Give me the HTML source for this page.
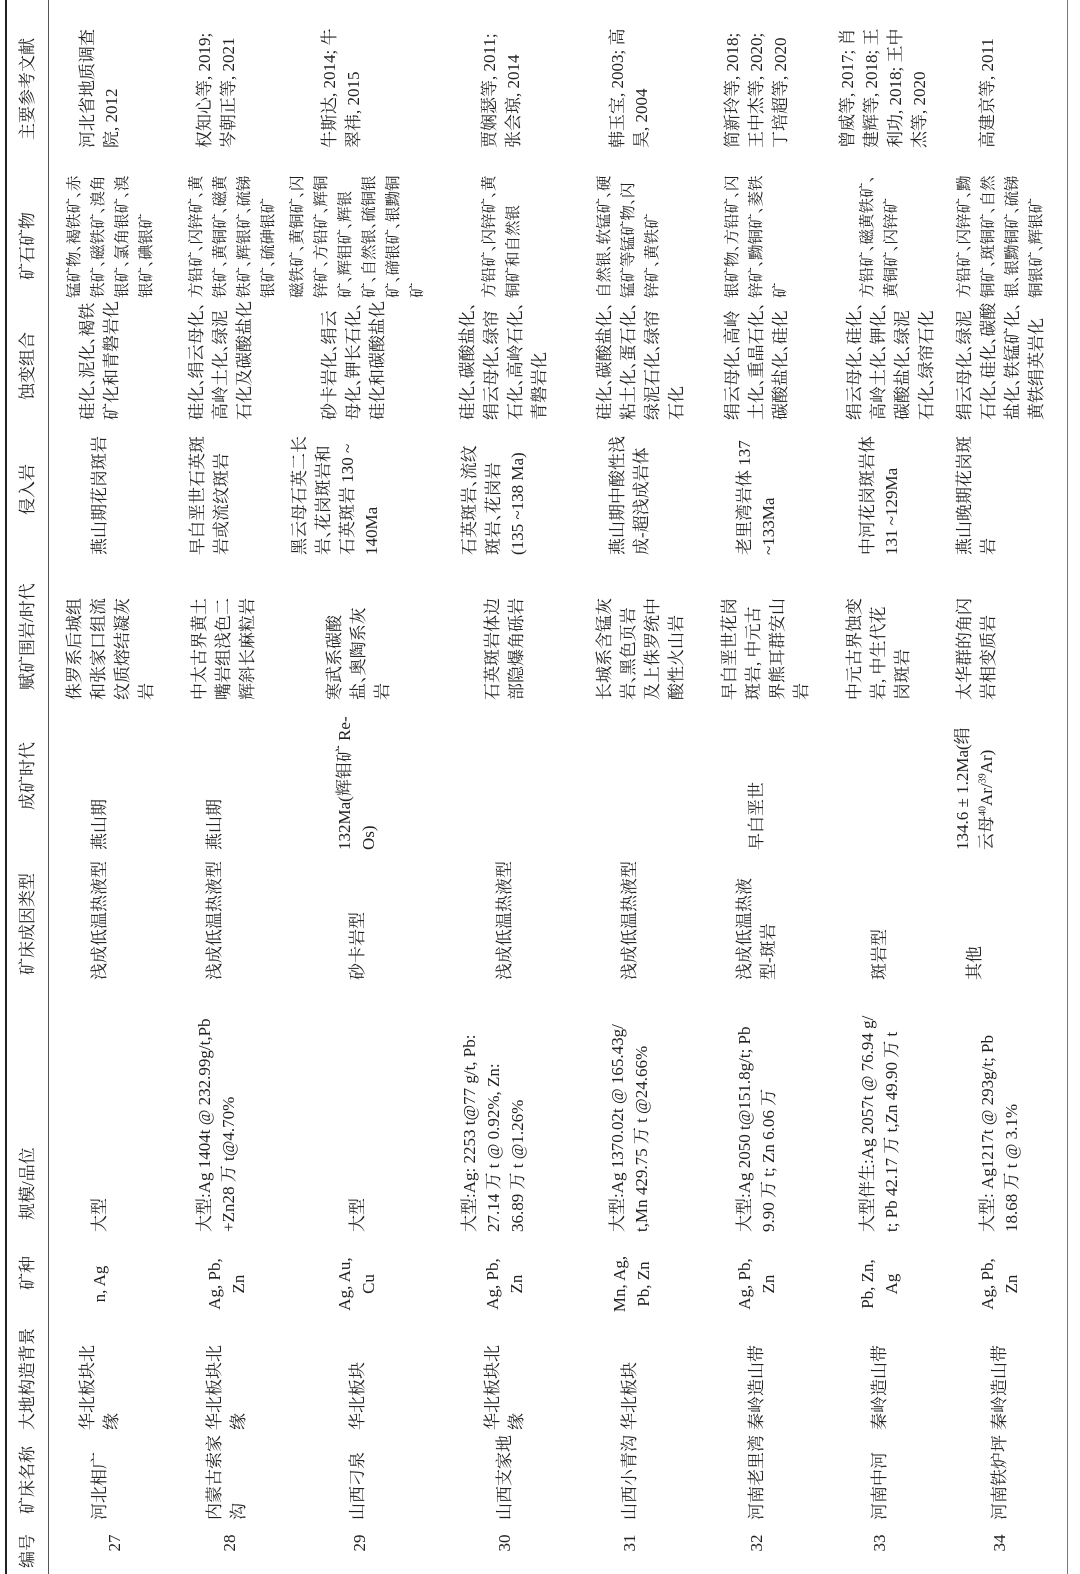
<!DOCTYPE html>
<html><head><meta charset="utf-8">
<style>
html,body{margin:0;padding:0;background:#fff;}
body{width:1080px;height:1574px;overflow:hidden;position:relative;}
#t{position:absolute;left:0;top:0;width:1574px;height:1080px;transform-origin:0 0;transform:translateY(1574px) rotate(-90deg);font-family:"Liberation Serif","Noto Serif CJK SC",serif;font-size:17px;color:#222;}
.c{position:absolute;line-height:24px;white-space:nowrap;}
.k{font-size:15.5px;}
.n{position:absolute;line-height:24px;white-space:nowrap;left:10px;width:42px;text-align:center;}
.m{position:absolute;line-height:24px;white-space:nowrap;left:244px;width:92px;text-align:center;}
.h{position:absolute;top:16px;line-height:24px;white-space:nowrap;}
.l{position:absolute;left:0;width:1574px;background:#333;}
i{font-style:normal;display:inline-block;width:0.45em;overflow:hidden;vertical-align:bottom;}
</style></head><body>
<div id="t">
<div class="l" style="top:5px;height:2px;background:#222"></div>
<div class="l" style="top:48px;height:1px;background:#555"></div>
<div class="l" style="top:1067px;height:1px;background:#777"></div>

<div class="h" style="left:6px">编号</div>
<div class="h" style="left:60px">矿床名称</div>
<div class="h" style="left:144px">大地构造背景</div>
<div class="h" style="left:284px">矿种</div>
<div class="h" style="left:354px">规模/品位</div>
<div class="h" style="left:599px">矿床成因类型</div>
<div class="h" style="left:764px">成矿时代</div>
<div class="h" style="left:884px">赋矿围岩/时代</div>
<div class="h" style="left:1059px">侵入岩</div>
<div class="h" style="left:1174px">蚀变组合</div>
<div class="h" style="left:1294px">矿石矿物</div>
<div class="h" style="left:1434px">主要参考文献</div>

<!-- 27 -->
<div class="n" style="top:103px">27</div>
<div class="c" style="left:54px;top:88px">河北相广</div>
<div class="c" style="left:144px;top:76px">华北板块北<br>缘</div>
<div class="m" style="top:88px">n, Ag</div>
<div class="c" style="left:342px;top:88px">大型</div>
<div class="c" style="left:594px;top:88px">浅成低温热液型</div>
<div class="c" style="left:724px;top:88px">燕山期</div>
<div class="c" style="left:874px;top:63px">侏罗系后城组<br>和张家口组流<br>纹质熔结凝灰<br>岩</div>
<div class="c" style="left:1019px;top:88px">燕山期花岗斑岩</div>
<div class="c" style="left:1154px;top:76px">硅化<i>、</i>泥化<i>、</i>褐铁<br>矿化和青磐岩化</div>
<div class="c k" style="left:1276px;top:63px">锰矿物<i>、</i>褐铁矿<i>、</i>赤<br>铁矿<i>、</i>磁铁矿<i>、</i>溴角<br>银矿<i>、</i>氯角银矿<i>、</i>溴<br>银矿<i>、</i>碘银矿</div>
<div class="c" style="left:1426px;top:76px">河北省地质调查<br>院, 2012</div>

<!-- 28 -->
<div class="n" style="top:218px">28</div>
<div class="c" style="left:54px;top:203px">内蒙古索家<br>沟</div>
<div class="c" style="left:144px;top:203px">华北板块北<br>缘</div>
<div class="m" style="top:203px">Ag, Pb,<br>Zn</div>
<div class="c" style="left:342px;top:193px">大型:Ag 1404t @ 232.99g/t,Pb<br>+Zn28 万 t@4.70%</div>
<div class="c" style="left:594px;top:203px">浅成低温热液型</div>
<div class="c" style="left:724px;top:203px">燕山期</div>
<div class="c" style="left:874px;top:188px">中太古界黄土<br>嘴岩组浅色二<br>辉斜长麻粒岩</div>
<div class="c" style="left:1019px;top:186px">早白垩世石英斑<br>岩或流纹斑岩</div>
<div class="c" style="left:1154px;top:185px">硅化<i>、</i>绢云母化<i>、</i><br>高岭土化<i>、</i>绿泥<br>石化及碳酸盐化</div>
<div class="c k" style="left:1276px;top:185px">方铅矿<i>、</i>闪锌矿<i>、</i>黄<br>铁矿<i>、</i>黄铜矿<i>、</i>磁黄<br>铁矿<i>、</i>辉银矿<i>、</i>硫锑<br>银矿<i>、</i>硫砷银矿</div>
<div class="c" style="left:1426px;top:193px">权知心等, 2019;<br>岑朝正等, 2021</div>

<!-- 29 -->
<div class="n" style="top:348px">29</div>
<div class="c" style="left:54px;top:346px">山西刁泉</div>
<div class="c" style="left:144px;top:346px">华北板块</div>
<div class="m" style="top:333px">Ag, Au,<br>Cu</div>
<div class="c" style="left:342px;top:346px">大型</div>
<div class="c" style="left:594px;top:346px">砂卡岩型</div>
<div class="c" style="left:724px;top:333px">132Ma(辉钼矿 Re-<br>Os)</div>
<div class="c" style="left:874px;top:323px">寒武系碳酸<br>盐<i>、</i>奥陶系灰<br>岩</div>
<div class="c" style="left:1019px;top:288px">黑云母石英二长<br>岩<i>、</i>花岗斑岩和<br>石英斑岩 130 ~<br>140Ma</div>
<div class="c" style="left:1154px;top:318px">砂卡岩化<i>、</i>绢云<br>母化<i>、</i>钾长石化<i>、</i><br>硅化和碳酸盐化</div>
<div class="c k" style="left:1276px;top:286px">磁铁矿<i>、</i>黄铜矿<i>、</i>闪<br>锌矿<i>、</i>方铅矿<i>、</i>辉铜<br>矿<i>、</i>辉钼矿<i>、</i>辉银<br>矿<i>、</i>自然银<i>、</i>硫铜银<br>矿<i>、</i>碲银矿<i>、</i>银黝铜<br>矿</div>
<div class="c" style="left:1426px;top:318px">牛斯达, 2014; 牛<br>翠祎, 2015</div>

<!-- 30 -->
<div class="n" style="top:493px">30</div>
<div class="c" style="left:54px;top:493px">山西支家地</div>
<div class="c" style="left:144px;top:481px">华北板块北<br>缘</div>
<div class="m" style="top:481px">Ag, Pb,<br>Zn</div>
<div class="c" style="left:342px;top:458px">大型:Ag: 2253 t@77 g/t, Pb:<br>27.14 万 t @ 0.92%, Zn:<br>36.89 万 t @1.26%</div>
<div class="c" style="left:594px;top:493px">浅成低温热液型</div>
<div class="c" style="left:874px;top:481px">石英斑岩体边<br>部隐爆角砾岩</div>
<div class="c" style="left:1019px;top:458px">石英斑岩<i>、</i>流纹<br>斑岩<i>、</i>花岗岩<br>(135 ~138 Ma)</div>
<div class="c" style="left:1154px;top:456px">硅化<i>、</i>碳酸盐化<i>、</i><br>绢云母化<i>、</i>绿帘<br>石化<i>、</i>高岭石化<i>、</i><br>青磐岩化</div>
<div class="c k" style="left:1276px;top:478px">方铅矿<i>、</i>闪锌矿<i>、</i>黄<br>铜矿和自然银</div>
<div class="c" style="left:1426px;top:478px">贾娴瑟等, 2011;<br>张会琼, 2014</div>

<!-- 31 -->
<div class="n" style="top:618px">31</div>
<div class="c" style="left:54px;top:618px">山西小青沟</div>
<div class="c" style="left:144px;top:618px">华北板块</div>
<div class="m" style="top:608px">Mn, Ag,<br>Pb, Zn</div>
<div class="c" style="left:342px;top:606px">大型:Ag 1370.02t @ 165.43g/<br>t,Mn 429.75 万 t @24.66%</div>
<div class="c" style="left:594px;top:618px">浅成低温热液型</div>
<div class="c" style="left:874px;top:593px">长城系含锰灰<br>岩<i>、</i>黑色页岩<br>及上侏罗统中<br>酸性火山岩</div>
<div class="c" style="left:1019px;top:606px">燕山期中酸性浅<br>成-超浅成岩体</div>
<div class="c" style="left:1154px;top:593px">硅化<i>、</i>碳酸盐化<i>、</i><br>粘土化<i>、</i>蛋石化<i>、</i><br>绿泥石化<i>、</i>绿帘<br>石化</div>
<div class="c k" style="left:1276px;top:593px">自然银<i>、</i>软锰矿<i>、</i>硬<br>锰矿等锰矿物<i>、</i>闪<br>锌矿<i>、</i>黄铁矿</div>
<div class="c" style="left:1426px;top:606px">韩玉宝, 2003; 高<br>昊, 2004</div>

<!-- 32 -->
<div class="n" style="top:745px">32</div>
<div class="c" style="left:54px;top:745px">河南老里湾</div>
<div class="c" style="left:144px;top:745px">秦岭造山带</div>
<div class="m" style="top:733px">Ag, Pb,<br>Zn</div>
<div class="c" style="left:342px;top:733px">大型:Ag 2050 t@151.8g/t; Pb<br>9.90 万 t; Zn 6.06 万</div>
<div class="c" style="left:594px;top:733px">浅成低温热液<br>型-斑岩</div>
<div class="c" style="left:724px;top:745px">早白垩世</div>
<div class="c" style="left:874px;top:718px">早白垩世花岗<br>斑岩, 中元古<br>界熊耳群安山<br>岩</div>
<div class="c" style="left:1019px;top:733px">老里湾岩体 137<br>~133Ma</div>
<div class="c" style="left:1154px;top:721px">绢云母化<i>、</i>高岭<br>土化<i>、</i>重晶石化<i>、</i><br>碳酸盐化<i>、</i>硅化</div>
<div class="c k" style="left:1276px;top:721px">银矿物<i>、</i>方铅矿<i>、</i>闪<br>锌矿<i>、</i>黝铜矿<i>、</i>菱铁<br>矿</div>
<div class="c" style="left:1426px;top:721px">简新玲等, 2018;<br>王中杰等, 2020;<br>丁培超等, 2020</div>

<!-- 33 -->
<div class="n" style="top:868px">33</div>
<div class="c" style="left:54px;top:868px">河南中河</div>
<div class="c" style="left:144px;top:868px">秦岭造山带</div>
<div class="m" style="top:856px">Pb, Zn,<br>Ag</div>
<div class="c" style="left:342px;top:856px">大型伴生:Ag 2057t @ 76.94 g/<br>t; Pb 42.17 万 t,Zn 49.90 万 t</div>
<div class="c" style="left:594px;top:868px">斑岩型</div>
<div class="c" style="left:874px;top:843px">中元古界蚀变<br>岩, 中生代花<br>岗斑岩</div>
<div class="c" style="left:1019px;top:856px">中河花岗斑岩体<br>131 ~129Ma</div>
<div class="c" style="left:1154px;top:843px">绢云母化<i>、</i>硅化<i>、</i><br>高岭土化<i>、</i>钾化<i>、</i><br>碳酸盐化<i>、</i>绿泥<br>石化<i>、</i>绿帘石化</div>
<div class="c k" style="left:1276px;top:856px">方铅矿<i>、</i>磁黄铁矿<i>、</i><br>黄铜矿<i>、</i>闪锌矿</div>
<div class="c" style="left:1426px;top:836px">曾威等, 2017; 肖<br>建辉等, 2018; 王<br>利功, 2018; 王中<br>杰等, 2020</div>

<!-- 34 -->
<div class="n" style="top:988px">34</div>
<div class="c" style="left:54px;top:988px">河南铁炉坪</div>
<div class="c" style="left:144px;top:988px">秦岭造山带</div>
<div class="m" style="top:976px">Ag, Pb,<br>Zn</div>
<div class="c" style="left:342px;top:976px">大型: Ag1217t @ 293g/t; Pb<br>18.68 万 t @ 3.1%</div>
<div class="c" style="left:594px;top:963px">其他</div>
<div class="c" style="left:724px;top:951px">134.6 ± 1.2Ma(绢<br>云母<sup style="font-size:10px;line-height:0">40</sup>Ar/<sup style="font-size:10px;line-height:0">39</sup>Ar)</div>
<div class="c" style="left:874px;top:953px">太华群的角闪<br>岩相变质岩</div>
<div class="c" style="left:1019px;top:953px">燕山晚期花岗斑<br>岩</div>
<div class="c" style="left:1154px;top:953px">绢云母化<i>、</i>绿泥<br>石化<i>、</i>硅化<i>、</i>碳酸<br>盐化<i>、</i>铁锰矿化<i>、</i><br>黄铁绢英岩化</div>
<div class="c k" style="left:1276px;top:953px">方铅矿<i>、</i>闪锌矿<i>、</i>黝<br>铜矿<i>、</i>斑铜矿<i>、</i>自然<br>银<i>、</i>银黝铜矿<i>、</i>硫锑<br>铜银矿<i>、</i>辉银矿</div>
<div class="c" style="left:1426px;top:976px">高建京等, 2011</div>
</div>
</body></html>
